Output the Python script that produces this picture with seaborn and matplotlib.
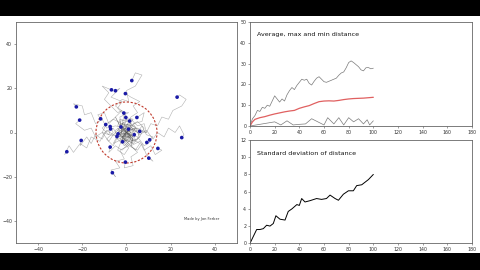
import matplotlib
matplotlib.use("Agg")
import matplotlib.pyplot as plt
import matplotlib.patches as mpatches
import seaborn as sns
import pandas as pd
import numpy as np

# ---------------- data ----------------
# walker end positions (blue dots)
end_x = [2.4, -6.8, -5.0, -0.5, 22.9, -22.7, -21.2, -11.7, -1.2, -0.3, 1.4, 4.7, -9.4, -7.4, -7.2, 0.9,
         -3.8, -4.3, -1.8, -20.5, 25.0, 10.5, 9.2, 14.2, -7.4, -27.0, 10.1, -6.4, -0.5, 3.5, -2.5, 6.0]
end_y = [23.5, 19.3, 18.9, 17.6, 16.0, 11.6, 5.6, 6.2, 8.8, 6.8, 5.2, 6.8, 3.6, 2.7, 1.6, 1.5,
         -0.6, -1.8, -4.2, -3.6, -2.3, -3.3, -4.5, -7.2, -6.6, -8.7, -11.6, -18.2, -13.4, -1.0, 2.5, 0.5]

# rough hand-read waypoints of each walker's trail (start at origin, end at dot)
walker_paths = [
    [(0, 0), (2, -3), (-1, -1), (1, 3), (-2, 1), (-3, 5), (0, 6), (-1, 9), (-5, 12), (-2, 15), (1, 14), (0, 19), (4, 21), (7, 26), (4, 27)],
    [(0, 0), (-2, 2), (1, 4), (-1, 1), (-3, 3), (-5, 7), (-2, 10), (-4, 9), (-7, 12), (-10, 15), (-8, 18), (-11, 21)],
    [(0, 0), (3, 1), (1, 5), (3, 3), (-2, 4), (-1, 8), (-4, 11), (-2, 14), (-7, 16), (-3, 20)],
    [(0, 0), (-2, -2), (-4, 1), (-1, -1), (0, 3), (2, 7), (5, 9), (3, 12), (6, 14), (2, 16)],
    [(0, 0), (3, -2), (1, 1), (5, 2), (9, 0), (11, 4), (14, 3), (16, 7), (19, 6), (21, 10), (25, 12), (27, 15), (24, 17)],
    [(0, 0), (-3, -1), (-1, 2), (-5, 3), (-9, 2), (-11, 6), (-14, 4), (-16, 9), (-19, 8), (-20, 12), (-24, 13)],
    [(0, 0), (-2, -3), (1, -2), (-6, -1), (-8, -4), (-11, 0), (-14, -2), (-16, 2), (-19, 1), (-23, 4)],
    [(0, 0), (-3, 2), (-1, 5), (-3, 3), (-5, 7), (-8, 4), (-10, 9), (-13, 8)],
    [(0, 0), (2, 3), (-1, 4), (1, -2), (-4, 2), (-2, -1), (-3, 7), (1, 9)],
    [(0, 0), (-3, -3), (-1, -6), (2, -3), (0, -1), (4, 1), (1, 3), (3, 6)],
    [(0, 0), (4, 2), (6, -2), (3, -4), (1, 0), (-2, 2), (-3, -2), (0, 6)],
    [(0, 0), (2, -2), (-1, -3), (5, 1), (3, 4), (7, 5), (8, 9)],
    [(0, 0), (-2, 3), (-5, 1), (-4, -3), (-1, -2), (-8, -1), (-11, 2)],
    [(0, 0), (-1, -4), (2, -2), (-4, -2), (-6, -6), (-9, -3), (-6, 0)],
    [(0, 0), (-3, 4), (0, 3), (-6, 6), (-9, 4), (-11, 0), (-8, -1)],
    [(0, 0), (3, -3), (6, -5), (4, -8), (1, -5), (-2, -2), (2, 0), (-1, 2)],
    [(0, 0), (3, 3), (6, 1), (5, -3), (1, -4), (-2, -3), (-1, 1)],
    [(0, 0), (-2, -4), (1, -7), (-1, -10), (-4, -8), (-2, -3), (-6, -5)],
    [(0, 0), (2, 3), (5, 5), (8, 2), (6, -2), (3, -5), (0, -3)],
    [(0, 0), (-3, 2), (-6, -1), (-9, 1), (-11, -3), (-14, -1), (-16, -5), (-18, -2), (-21, -6)],
    [(0, 0), (3, 2), (6, -1), (9, 1), (12, -3), (14, 0), (17, -2), (19, 2), (22, 0), (24, 3), (26, -1)],
    [(0, 0), (2, 2), (-1, 3), (5, 0), (7, 3), (9, -1), (12, -2)],
    [(0, 0), (-1, -3), (3, -5), (1, -1), (5, -2), (8, -6), (11, -4)],
    [(0, 0), (3, -2), (2, -6), (6, -4), (8, -8), (11, -6), (13, -10), (16, -8)],
    [(0, 0), (-2, -2), (1, -5), (-2, -8), (-5, -6), (-8, -9)],
    [(0, 0), (-4, -2), (-6, 2), (-10, 0), (-12, -4), (-16, -2), (-18, -7), (-21, -5), (-24, -9), (-26, -6), (-28, -10)],
    [(0, 0), (3, -3), (1, -6), (5, -8), (7, -5), (9, -10), (12, -13)],
    [(0, 0), (-2, -3), (1, -6), (-3, -8), (-1, -12), (-5, -13), (-3, -16), (-7, -17), (-5, -20)],
    [(0, 0), (3, -2), (2, -6), (5, -9), (2, -11), (3, -15), (-1, -16)],
    [(0, 0), (-3, 1), (-5, -2), (-2, -5), (1, -3), (4, -4)],
    [(0, 0), (2, -1), (4, 2), (1, 5), (-3, 6), (-4, 3)],
    [(0, 0), (-2, 4), (2, 6), (5, 3), (8, 4), (9, 0)],
]

# distance statistics per step
avg_steps = [0, 2, 4, 8, 12, 16, 20, 24, 28, 32, 36, 40, 44, 48, 52, 56, 60, 64, 68, 72, 76, 80, 84, 88, 92, 96, 100]
avg_dist = [0, 2.0, 3.2, 4.0, 4.5, 5.2, 5.8, 6.3, 6.8, 7.2, 7.5, 8.5, 9.2, 9.8, 10.8, 11.7, 12.0, 12.1, 12.0,
            12.3, 12.7, 13.0, 13.2, 13.3, 13.4, 13.6, 13.8]

max_steps = [0, 2, 4, 6, 8, 10, 12, 14, 16, 18, 20, 22, 24, 26, 28, 30, 32, 34, 36, 38, 40, 42, 44, 46, 48, 50,
             52, 54, 56, 58, 60, 62, 64, 66, 68, 70, 72, 74, 76, 78, 80, 82, 84, 86, 88, 90, 92, 94, 96, 98, 100]
max_dist = [0, 3.5, 5.0, 7.5, 7.0, 9.0, 8.5, 10.0, 9.5, 12.0, 14.5, 13.0, 11.5, 13.0, 12.0, 15.0, 17.0, 18.5,
            17.5, 19.5, 21.0, 22.5, 22.0, 22.5, 20.5, 19.7, 21.5, 23.0, 23.7, 22.5, 21.3, 21.0, 21.5, 22.0, 22.5,
            23.0, 24.4, 25.5, 26.0, 28.0, 30.5, 31.3, 30.5, 29.5, 28.5, 27.0, 26.5, 28.0, 28.1, 27.5, 27.8]

min_steps = [0, 5, 10, 15, 20, 25, 30, 35, 40, 45, 50, 55, 60, 63, 68, 72, 76, 80, 84, 88, 92, 95, 97, 100]
min_dist = [0, 0.5, 1.0, 1.5, 2.0, 0.5, 2.5, 0.5, 0.8, 1.0, 3.5, 2.0, 0.5, 4.0, 1.0, 4.0, 0.5, 4.0, 2.0, 3.5,
            1.0, 3.0, 0.5, 2.5]

std_steps = [0, 2.7, 5.4, 8, 10.8, 13.5, 16.2, 18.9, 21, 24.3, 28.4, 31, 34, 38, 40, 41.9, 44.6, 48.6, 54, 58,
             62, 64.9, 69, 71.7, 75.7, 79.8, 83.8, 86.5, 90.6, 96, 100]
std_dist = [0, 0.8, 1.6, 1.6, 1.7, 2.1, 2.0, 2.3, 3.2, 2.8, 2.7, 3.7, 4.0, 4.5, 4.4, 5.2, 4.8, 4.95, 5.2, 5.1,
            5.2, 5.6, 5.2, 5.0, 5.7, 6.1, 6.1, 6.7, 6.8, 7.4, 8.0]

title_top = "Average, max and min distance"
title_bottom = "Standard deviation of distance"
credit = "Made by Jon Ferber"

# ---------------- figure ----------------
sns.set_theme(style="ticks")
plt.rcParams["font.family"] = ["DejaVu Sans"]
plt.rcParams.update({
    "axes.edgecolor": "#666666", "axes.linewidth": 0.6,
    "xtick.color": "#555555", "ytick.color": "#555555",
    "xtick.labelsize": 3.4, "ytick.labelsize": 3.4,
    "xtick.major.size": 1.5, "ytick.major.size": 1.5,
    "xtick.major.width": 0.4, "ytick.major.width": 0.4,
    "xtick.major.pad": 1.2, "ytick.major.pad": 1.2,
    "xtick.labelcolor": "#333333", "ytick.labelcolor": "#333333",
})

fig = plt.figure(figsize=(4.8, 2.7), dpi=100)
fig.patch.set_facecolor("black")
fig.patches.append(mpatches.Rectangle((0, 17 / 270), 1, 237 / 270, transform=fig.transFigure,
                                      facecolor="white", edgecolor="none", zorder=-10))

# left: walkers
axL = fig.add_axes([16 / 480, 27 / 270, 221 / 480, 221 / 270])
rows = []
for i, path in enumerate(walker_paths):
    pts = list(path) + [(end_x[i], end_y[i])]
    for k, (px, py) in enumerate(pts):
        rows.append({"walker": i, "order": k, "x": px, "y": py})
paths_df = pd.DataFrame(rows)
sns.lineplot(data=paths_df, x="x", y="y", units="walker", estimator=None, sort=False,
             color="#505050", lw=0.4, alpha=0.45, ax=axL)
ends_df = pd.DataFrame({"x": end_x, "y": end_y})
sns.scatterplot(data=ends_df, x="x", y="y", color="#1a1aa6", s=7, edgecolor="none", ax=axL, zorder=5)
radius = avg_dist[-1]
axL.add_patch(mpatches.Circle((0, 0), radius, fill=False, ls=(0, (2, 1.5)), lw=0.8, color="#c0392b", zorder=4))
axL.set_xlim(-50, 50)
axL.set_ylim(-50, 50)
axL.set_xticks([-40, -20, 0, 20, 40])
axL.set_yticks([-40, -20, 0, 20, 40])
axL.set_xlabel("")
axL.set_ylabel("")
axL.text(34, -39, credit, fontsize=2.6, ha="center", va="center", color="#333333")

# right top
axT = fig.add_axes([250 / 480, 144 / 270, 222 / 480, 104 / 270])
sns.lineplot(x=max_steps, y=max_dist, color="#7a7a7a", lw=0.5, ax=axT)
sns.lineplot(x=min_steps, y=min_dist, color="#7a7a7a", lw=0.5, ax=axT)
sns.lineplot(x=avg_steps, y=avg_dist, color="#e06060", lw=0.9, ax=axT)
axT.set_xlim(0, 180)
axT.set_ylim(0, 50)
axT.set_xticks(range(0, 181, 20))
axT.set_yticks(range(0, 51, 10))
axT.text(0.03, 0.88, title_top, transform=axT.transAxes, fontsize=4.6, color="#111111", va="center")

# right bottom
axB = fig.add_axes([250 / 480, 26.7 / 270, 222 / 480, 103.3 / 270])
sns.lineplot(x=std_steps, y=std_dist, color="black", lw=0.7, ax=axB)
axB.set_xlim(0, 180)
axB.set_ylim(0, 12)
axB.set_xticks(range(0, 181, 20))
axB.set_yticks(range(0, 13, 2))
axB.text(0.03, 0.87, title_bottom, transform=axB.transAxes, fontsize=4.6, color="#111111", va="center")

fig.savefig("out.png", dpi=100, facecolor=fig.get_facecolor())
